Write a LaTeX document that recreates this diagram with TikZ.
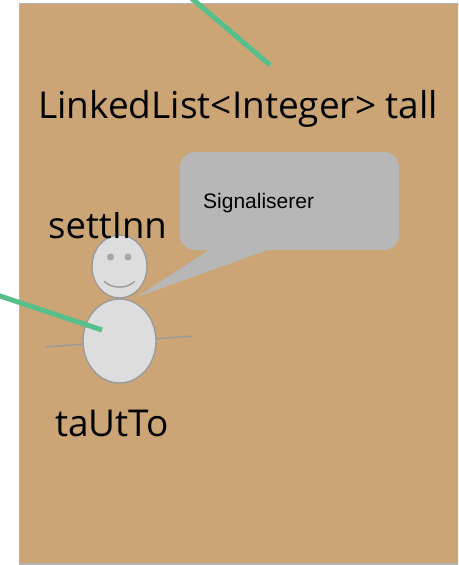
\documentclass[tikz,border=0pt]{standalone}
\usepackage{fontspec}
\setmainfont{Open Sans}
\newfontfamily\bubblefont{Liberation Sans}
\usetikzlibrary{shapes.geometric,calc}

\definecolor{paper}{RGB}{204,165,118}
\definecolor{frame}{RGB}{180,180,180}
\definecolor{pointer}{RGB}{87,191,140}
\definecolor{snow}{RGB}{221,221,221}
\definecolor{snowline}{RGB}{155,155,155}
\definecolor{bubblegray}{RGB}{183,183,183}

\tikzset{
  label text/.style={inner sep=0pt, anchor=base west, text=black},
  snowball/.style={ellipse, draw=snowline, line width=1.4pt, fill=snow, inner sep=0pt},
  limb/.style={draw=snowline, line width=1.4pt},
  pointer line/.style={draw=pointer, line width=5pt},
  speech/.style={rectangle, rounded corners=15pt, fill=bubblegray, inner sep=0pt},
}

\begin{document}
\begin{tikzpicture}[x=1pt, y=-1pt]
  \useasboundingbox (0,0) rectangle (458,565);
  \begin{scope}
    \clip (0,0) rectangle (458,565);
    % the list object
    \fill[paper] (19.5,3.5) rectangle (460,564);
    \draw[frame, line width=1.5pt] (19.5,3.5) rectangle (460,564);
  \end{scope}

  % arms, drawn behind the body
  \coordinate (handl) at (45,347);
  \coordinate (handr) at (193,336);
  \draw[limb] (handl) -- (handr);

  % snowman
  \node[snowball, minimum width=73pt, minimum height=84pt] (body) at (119.5,341) {};
  \node[snowball, minimum width=55pt, minimum height=63pt] (head) at (119.5,266.5) {};
  \fill[snowline!80!snow] (110.5,257) circle (3.6pt) (128,257) circle (3.6pt);
  \draw[limb, line cap=round] (104.5,281.5) .. controls (112,289) and (127,289) .. (134.5,281.5);

  % speech bubble
  \node[speech, minimum width=219pt, minimum height=98pt] (bubble) at (289.5,201) {};
  \coordinate (tailtip) at (137,297);
  \fill[bubblegray] ($(bubble.south west)+(30,-1)$) -- (tailtip) -- ($(bubble.south west)+(90,-1)$) -- cycle;
  \node[label text, font=\bubblefont\fontsize{21}{24}\selectfont] (signal) at (203,208) {Signaliserer};

  % labels
  \node[label text, font=\fontsize{37}{42}\selectfont] (listname) at (38,118) {LinkedList<Integer> tall};
  \node[label text, font=\fontsize{36.5}{42}\selectfont] (insert) at (48,238) {settInn};
  \node[label text, font=\fontsize{37}{42}\selectfont] (remove) at (55,436) {taUtTo};

  % reference arrows
  \coordinate (topfree) at (190,-3);
  \coordinate (topend) at (270,65);
  \draw[pointer line] (topfree) -- (topend);
  \coordinate (leftfree) at (-3,295);
  \coordinate (leftend) at (102,330);
  \draw[pointer line] (leftfree) -- (leftend);
\end{tikzpicture}
\end{document}
